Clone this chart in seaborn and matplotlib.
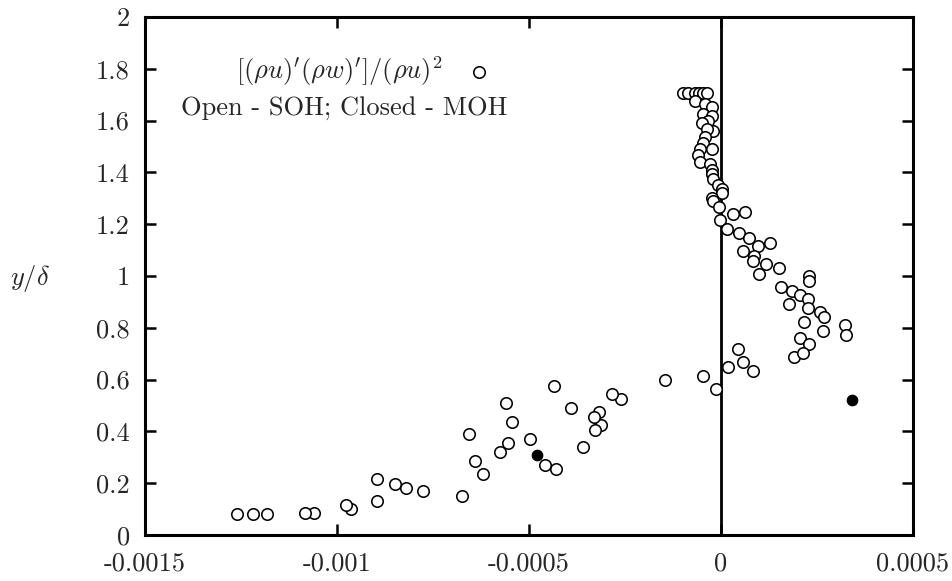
import matplotlib
matplotlib.use("Agg")
import matplotlib.pyplot as plt
import seaborn as sns
import pandas as pd

# ---- data ----
open_x = [-0.000098, -0.000085, -0.000068, -0.000056, -0.000046, -0.000037,
          -0.000068, -0.000042, -0.000024, -0.000046, -0.000024, -0.000035,
          -0.000050, -0.000022, -0.000037, -0.000042, -0.000046, -0.000024,
          -0.000055, -0.000059, -0.000055, -0.000029, -0.000024, -0.000024,
          -0.000020, -0.000007, 0.000002, 0.000002, -0.000024, -0.000020,
          -0.000004, 0.000030, 0.000063, -0.000003, 0.000015, 0.000047,
          0.000074, 0.000097, 0.000128, 0.000058, 0.000087, 0.000083,
          0.000117, 0.000100, 0.000150, 0.000229, 0.000229, 0.000156,
          0.000184, 0.000206, 0.000227, 0.000178, 0.000227, 0.000258,
          0.000268, 0.000216, 0.000265, 0.000323, 0.000326, 0.000206,
          0.000229, 0.000191, 0.000214,
          0.000045, 0.000058, 0.000083, 0.000019, -0.000014, -0.000047,
          -0.000147, -0.000260, -0.000284, -0.000313, -0.000327, -0.000319,
          -0.000332, -0.000359, -0.000391, -0.000430, -0.000436, -0.000458,
          -0.000497, -0.000544, -0.000554, -0.000560, -0.000576, -0.000621,
          -0.000641, -0.000656, -0.000674, -0.000776, -0.000820, -0.000850,
          -0.000897, -0.000897, -0.000964, -0.000976, -0.001061, -0.001083,
          -0.001181, -0.001220, -0.001260]
open_y = [1.708, 1.708, 1.708, 1.708, 1.708, 1.708,
          1.674, 1.663, 1.652, 1.626, 1.617, 1.600,
          1.590, 1.559, 1.566, 1.535, 1.512, 1.489,
          1.489, 1.466, 1.440, 1.432, 1.410, 1.392,
          1.375, 1.350, 1.337, 1.321, 1.300, 1.290,
          1.265, 1.240, 1.248, 1.216, 1.182, 1.166,
          1.145, 1.117, 1.127, 1.097, 1.076, 1.058,
          1.047, 1.007, 1.029, 0.999, 0.980, 0.959,
          0.944, 0.925, 0.910, 0.892, 0.877, 0.860,
          0.841, 0.821, 0.789, 0.810, 0.773, 0.760,
          0.739, 0.686, 0.704,
          0.718, 0.667, 0.634, 0.650, 0.562, 0.614,
          0.598, 0.527, 0.544, 0.424, 0.407, 0.475,
          0.456, 0.340, 0.492, 0.254, 0.577, 0.272,
          0.372, 0.438, 0.355, 0.508, 0.319, 0.237,
          0.285, 0.389, 0.150, 0.168, 0.181, 0.198,
          0.132, 0.215, 0.099, 0.114, 0.084, 0.084,
          0.082, 0.082, 0.082]
closed_x = [-0.000480, 0.000342]
closed_y = [0.308, 0.521]

x_ticks = [-0.0015, -0.001, -0.0005, 0, 0.0005]
x_tick_labels = ["-0.0015", "-0.001", "-0.0005", "0", "0.0005"]
y_ticks = [0, 0.2, 0.4, 0.6, 0.8, 1.0, 1.2, 1.4, 1.6, 1.8, 2.0]
y_tick_labels = ["0", "0.2", "0.4", "0.6", "0.8", "1", "1.2", "1.4", "1.6", "1.8", "2"]

series_label = r"$[(\rho u)'(\rho w)']/(\rho u)^2$"
note_text = "Open - SOH; Closed - MOH"
y_label = r"$y/\delta$"

# ---- style ----
sns.set_style("ticks")
plt.rcParams["font.family"] = ["cmr10", "DejaVu Serif"]
plt.rcParams["mathtext.fontset"] = "cm"
plt.rcParams["axes.unicode_minus"] = False
FS = 19

fig = plt.figure(figsize=(9.52, 5.81), dpi=100)
ax = fig.add_axes([145 / 952, 1 - 535 / 581, 768 / 952, 518 / 581])

df_open = pd.DataFrame({"x": open_x, "y": open_y})
df_closed = pd.DataFrame({"x": closed_x, "y": closed_y})

sns.scatterplot(data=df_open, x="x", y="y", ax=ax, marker="o", s=68,
                facecolor="white", edgecolor="black", linewidth=1.15,
                label=series_label, zorder=3)
sns.scatterplot(data=df_closed, x="x", y="y", ax=ax, marker="o", s=58,
                color="black", edgecolor="black", linewidth=0.8,
                legend=False, zorder=4)

ax.axvline(0, color="black", lw=2.0, zorder=2)

ax.set_xlim(-0.0015, 0.0005)
ax.set_ylim(0, 2)
ax.set_xticks(x_ticks)
ax.set_xticklabels(x_tick_labels, fontsize=FS)
ax.set_yticks(y_ticks)
ax.set_yticklabels(y_tick_labels, fontsize=FS)
ax.tick_params(axis="both", direction="in", length=8, width=1.8,
               top=True, right=True, color="black")
ax.tick_params(axis="x", pad=12)
ax.tick_params(axis="y", pad=11)
for sp in ax.spines.values():
    sp.set_linewidth(2.2)
    sp.set_color("black")

ax.set_xlabel("")
ax.set_ylabel(y_label, fontsize=FS, rotation=0, ha="center", va="center")
ax.yaxis.set_label_coords(-0.15, 0.496)

handles, labels = ax.get_legend_handles_labels()
leg = ax.legend(handles, labels, loc="center", bbox_to_anchor=(0.285, 0.895),
                markerfirst=False, frameon=False, fontsize=FS,
                handlelength=1.0, handletextpad=0.9, borderpad=0.2)

ax.text(0.259, 0.824, note_text, transform=ax.transAxes, ha="center",
        va="center", fontsize=FS)

fig.savefig("out.png", dpi=100)
